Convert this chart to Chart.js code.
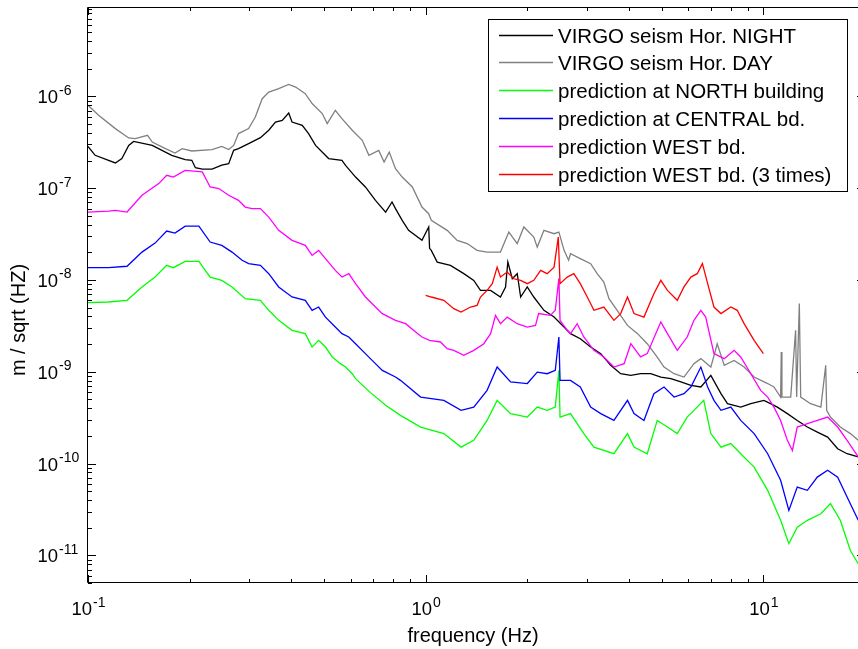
<!DOCTYPE html>
<html>
<head>
<meta charset="utf-8">
<script src="https://cdn.jsdelivr.net/npm/chart.js@4/dist/chart.umd.min.js"></script>
<style>
  html, body { margin: 0; padding: 0; background: #fff; overflow: hidden; }
  #plot { display: block; }
</style>
</head>
<body>
<canvas id="plot" width="866" height="649"></canvas>
<script>
// [frequency (Hz), m/sqrt(Hz)]
var nightPts = [[0.1,2.85e-7],[0.105,2.28e-7],[0.1205,1.88e-7],[0.126,2.1e-7],[0.132,2.92e-7],[0.1365,3.23e-7],[0.155,2.92e-7],[0.177,2.28e-7],[0.194,2.04e-7],[0.203,2.01e-7],[0.208,1.67e-7],[0.218,1.615e-7],[0.233,1.615e-7],[0.249,1.785e-7],[0.261,1.85e-7],[0.27,2.58e-7],[0.279,2.69e-7],[0.299,3.05e-7],[0.324,3.55e-7],[0.343,4.27e-7],[0.359,5.25e-7],[0.376,5.48e-7],[0.393,6.58e-7],[0.402,5.25e-7],[0.431,4.83e-7],[0.45,3.93e-7],[0.472,2.92e-7],[0.516,2.1e-7],[0.565,2.01e-7],[0.579,1.77e-7],[0.62,1.32e-7],[0.663,1.03e-7],[0.71,7.37e-8],[0.761,5.49e-8],[0.795,7.06e-8],[0.814,5.98e-8],[0.852,4.46e-8],[0.89,3.47e-8],[0.975,2.7e-8],[1.021,3.77e-8],[1.027,2.21e-8],[1.039,2.1e-8],[1.082,1.566e-8],[1.184,1.443e-8],[1.297,1.171e-8],[1.388,9.9e-9],[1.453,7.7e-9],[1.557,7.7e-9],[1.665,6.52e-9],[1.724,8.39e-9],[1.751,1.566e-8],[1.805,1.03e-8],[1.867,1.17e-8],[1.911,6.52e-9],[1.999,8.39e-9],[2.09,6.52e-9],[2.24,4.67e-9],[2.4,3.94e-9],[2.625,2.83e-9],[2.685,2.6e-9],[2.87,2.29e-9],[3.08,1.86e-9],[3.3,1.575e-9],[3.53,1.174e-9],[3.78,9.52e-10],[4.05,9.13e-10],[4.33,9.52e-10],[4.64,9.52e-10],[4.97,8.76e-10],[5.32,8.42e-10],[5.7,7.74e-10],[6.1,7.11e-10],[6.53,6.82e-10],[6.99,9.13e-10],[7.49,5.77e-10],[7.83,4.49e-10],[8.57,4.12e-10],[9.18,4.49e-10],[10.04,4.88e-10],[10.5,4.49e-10],[11.0,4.12e-10],[11.78,3.5e-10],[12.6,2.95e-10],[13.5,2.5e-10],[14.45,2.2e-10],[15.5,1.94e-10],[16.6,1.45e-10],[17.7,1.28e-10],[19.1,1.18e-10]];

var dayPts = [[0.1,7.98e-7],[0.1075,6.22e-7],[0.1205,4.45e-7],[0.132,3.52e-7],[0.138,3.46e-7],[0.15,3.76e-7],[0.155,3.18e-7],[0.166,2.8e-7],[0.181,2.41e-7],[0.19,2.69e-7],[0.203,2.54e-7],[0.233,2.63e-7],[0.249,2.85e-7],[0.261,2.63e-7],[0.27,2.92e-7],[0.279,3.93e-7],[0.299,4.45e-7],[0.313,5.95e-7],[0.328,9.43e-7],[0.343,1.114e-6],[0.367,1.213e-6],[0.393,1.35e-6],[0.412,1.263e-6],[0.44,1.07e-6],[0.461,8.34e-7],[0.494,6.49e-7],[0.511,5.04e-7],[0.54,7.04e-7],[0.565,5.71e-7],[0.606,4.27e-7],[0.649,3.32e-7],[0.679,2.28e-7],[0.726,2.58e-7],[0.753,1.925e-7],[0.78,2.47e-7],[0.814,1.63e-7],[0.852,1.32e-7],[0.913,1.03e-7],[0.975,6.22e-8],[1.021,5.27e-8],[1.039,4.46e-8],[1.158,3.47e-8],[1.24,2.7e-8],[1.327,2.49e-8],[1.42,2.1e-8],[1.52,2.01e-8],[1.665,2.01e-8],[1.763,3.32e-8],[1.867,2.49e-8],[1.953,3.77e-8],[2.09,2.93e-8],[2.14,2.28e-8],[2.24,3.47e-8],[2.4,3.19e-8],[2.48,3.32e-8],[2.57,2.1e-8],[2.65,1.64e-8],[2.685,1.93e-8],[2.87,1.71e-8],[3.08,1.505e-8],[3.22,1.17e-8],[3.37,9.48e-9],[3.49,6.25e-9],[3.69,4.67e-9],[3.96,3.2e-9],[4.24,2.6e-9],[4.53,2.02e-9],[4.85,1.446e-9],[5.08,1.125e-9],[5.44,9.52e-10],[5.82,8.76e-10],[6.23,1.225e-9],[6.53,1.39e-9],[6.99,1.125e-9],[7.3,2.02e-9],[7.66,1.174e-9],[8.19,1.33e-9],[8.77,1.125e-9],[9.39,8.76e-10],[10.3,7.44e-10],[10.75,6.82e-10],[11.25,5.3e-10],[11.3,1.64e-9],[11.35,5.3e-10],[12.05,5.3e-10],[12.46,2.83e-9],[12.55,5.3e-10],[12.78,5.53e-9],[12.9,5.3e-10],[13.8,4.49e-10],[14.8,4.12e-10],[15.3,1.174e-9],[15.4,3.8e-10],[15.8,3.21e-10],[16.9,2.5e-10],[18.1,2.12e-10],[19.1,1.79e-10]];

var northPts = [[0.1,5.66e-9],[0.115,5.75e-9],[0.1305,6.0e-9],[0.1445,8.39e-9],[0.158,1.075e-8],[0.171,1.443e-8],[0.179,1.36e-8],[0.194,1.595e-8],[0.213,1.595e-8],[0.23,1.075e-8],[0.249,9.9e-9],[0.267,8.39e-9],[0.292,6.25e-9],[0.324,6.0e-9],[0.343,4.67e-9],[0.367,3.63e-9],[0.402,2.83e-9],[0.44,2.6e-9],[0.461,1.86e-9],[0.482,2.2e-9],[0.505,1.86e-9],[0.529,1.446e-9],[0.559,1.225e-9],[0.579,1.125e-9],[0.606,9.52e-10],[0.62,8.42e-10],[0.685,5.96e-10],[0.761,4.31e-10],[0.842,3.35e-10],[0.966,2.5e-10],[1.132,2.12e-10],[1.273,1.51e-10],[1.388,1.79e-10],[1.52,2.95e-10],[1.628,4.88e-10],[1.784,3.5e-10],[2.0,3.21e-10],[2.14,4.12e-10],[2.29,3.8e-10],[2.42,4.12e-10],[2.48,1.035e-9],[2.5,3.21e-10],[2.685,3.5e-10],[2.94,2.12e-10],[3.15,1.51e-10],[3.61,1.28e-10],[3.96,2.12e-10],[4.14,1.51e-10],[4.53,1.28e-10],[4.85,2.95e-10],[5.2,2.5e-10],[5.56,2.12e-10],[5.95,3.21e-10],[6.37,4.12e-10],[6.66,4.88e-10],[6.99,2.12e-10],[7.49,1.51e-10],[8.01,1.65e-10],[8.57,1.28e-10],[9.39,9.15e-11],[10.3,5.11e-11],[11.25,2.41e-11],[11.9,1.34e-11],[12.6,2.03e-11],[13.5,2.41e-11],[14.8,2.84e-11],[15.8,3.66e-11],[16.9,2.41e-11],[18.1,1.13e-11],[19.1,8.1e-12]];

var centralPts = [[0.1,1.36e-8],[0.115,1.36e-8],[0.1305,1.41e-8],[0.1445,2.01e-8],[0.158,2.52e-8],[0.171,3.41e-8],[0.181,3.24e-8],[0.194,3.86e-8],[0.213,3.86e-8],[0.23,2.59e-8],[0.249,2.38e-8],[0.267,2.01e-8],[0.286,1.64e-8],[0.299,1.505e-8],[0.324,1.443e-8],[0.343,1.17e-8],[0.367,8.39e-9],[0.402,6.52e-9],[0.44,6.0e-9],[0.461,4.67e-9],[0.482,5.07e-9],[0.505,3.94e-9],[0.54,3.07e-9],[0.565,2.6e-9],[0.592,2.39e-9],[0.62,2.02e-9],[0.663,1.575e-9],[0.71,1.225e-9],[0.744,1.035e-9],[0.814,8.76e-10],[0.842,8.06e-10],[0.966,5.3e-10],[1.132,4.88e-10],[1.273,3.8e-10],[1.388,4.12e-10],[1.52,6.27e-10],[1.628,1.125e-9],[1.784,7.74e-10],[2.0,7.44e-10],[2.14,9.9e-10],[2.29,9.52e-10],[2.42,1.035e-9],[2.48,2.39e-9],[2.5,8.06e-10],[2.685,8.06e-10],[2.87,6.82e-10],[3.08,4.12e-10],[3.3,3.5e-10],[3.61,2.95e-10],[3.96,4.88e-10],[4.14,3.5e-10],[4.43,2.95e-10],[4.74,5.77e-10],[5.08,6.82e-10],[5.44,5.3e-10],[5.82,5.77e-10],[6.1,6.82e-10],[6.53,1.125e-9],[6.84,6.82e-10],[7.14,4.88e-10],[7.49,3.8e-10],[8.01,4.12e-10],[8.57,2.95e-10],[9.39,2.12e-10],[10.3,1.28e-10],[11.25,6.57e-11],[11.9,3.09e-11],[12.6,5.55e-11],[13.5,5.11e-11],[14.45,7.12e-11],[15.5,8.45e-11],[16.6,7.12e-11],[17.7,4.32e-11],[19.1,2.41e-11]];

var westPts = [[0.1,5.49e-8],[0.115,5.63e-8],[0.1205,5.73e-8],[0.1305,5.49e-8],[0.1445,8.37e-8],[0.162,1.12e-7],[0.171,1.38e-7],[0.179,1.32e-7],[0.194,1.56e-7],[0.218,1.5e-7],[0.23,1.03e-7],[0.244,9.89e-8],[0.261,8.37e-8],[0.279,7.37e-8],[0.292,6.22e-8],[0.306,5.98e-8],[0.324,5.98e-8],[0.343,4.84e-8],[0.367,3.47e-8],[0.402,2.7e-8],[0.44,2.38e-8],[0.461,1.85e-8],[0.482,2.1e-8],[0.505,1.71e-8],[0.54,1.27e-8],[0.565,1.075e-8],[0.592,1.17e-8],[0.62,9.11e-9],[0.663,6.52e-9],[0.71,5.07e-9],[0.744,4.3e-9],[0.78,3.94e-9],[0.814,3.63e-9],[0.872,3.34e-9],[0.934,2.71e-9],[0.975,2.39e-9],[1.027,2.2e-9],[1.106,2.11e-9],[1.158,1.785e-9],[1.211,1.71e-9],[1.297,1.51e-9],[1.388,1.71e-9],[1.487,2.02e-9],[1.557,2.6e-9],[1.61,4.11e-9],[1.665,3.34e-9],[1.744,3.94e-9],[1.867,3.34e-9],[1.999,3.07e-9],[2.115,3.2e-9],[2.16,4.3e-9],[2.34,4.11e-9],[2.42,4.67e-9],[2.48,1.04e-8],[2.5,3.63e-9],[2.625,2.83e-9],[2.685,2.6e-9],[2.81,3.34e-9],[2.94,2.39e-9],[3.15,1.71e-9],[3.37,1.45e-9],[3.61,1.125e-9],[3.87,1.225e-9],[4.05,2.02e-9],[4.33,1.45e-9],[4.53,1.575e-9],[4.85,2.83e-9],[4.97,3.48e-9],[5.2,2.6e-9],[5.56,1.71e-9],[5.95,2.39e-9],[6.23,3.63e-9],[6.53,4.67e-9],[6.75,3.94e-9],[7.14,1.575e-9],[7.66,1.39e-9],[8.19,1.71e-9],[8.57,1.45e-9],[9.18,9.52e-10],[9.82,6.27e-10],[10.3,5.3e-10],[10.75,4.12e-10],[11.25,2.95e-10],[11.78,1.79e-10],[12.19,1.39e-10],[12.6,2.5e-10],[13.5,2.72e-10],[14.45,2.95e-10],[15.5,3.21e-10],[16.6,2.5e-10],[17.7,1.79e-10],[19.1,1.18e-10]];

var west3Pts = [[1.0,6.8e-9],[1.039,6.52e-9],[1.132,6.0e-9],[1.211,4.87e-9],[1.273,4.47e-9],[1.358,5.07e-9],[1.42,5.29e-9],[1.453,6.52e-9],[1.52,7.7e-9],[1.575,9.11e-9],[1.628,1.38e-8],[1.665,1.075e-8],[1.744,1.22e-8],[1.824,1.03e-8],[1.911,9.9e-9],[2.0,9.11e-9],[2.09,9.9e-9],[2.19,1.27e-8],[2.29,1.17e-8],[2.4,1.38e-8],[2.47,2.93e-8],[2.5,9.11e-9],[2.625,1.075e-8],[2.746,1.17e-8],[2.87,9.11e-9],[3.01,6.52e-9],[3.15,4.67e-9],[3.37,5.07e-9],[3.61,3.63e-9],[3.78,4.3e-9],[3.96,6.52e-9],[4.14,4.3e-9],[4.43,3.94e-9],[4.74,7.09e-9],[4.97,9.9e-9],[5.2,7.7e-9],[5.56,6.0e-9],[5.82,8.39e-9],[6.1,1.075e-8],[6.37,1.17e-8],[6.6,1.505e-8],[6.84,9.11e-9],[7.14,5.07e-9],[7.49,4.3e-9],[8.01,5.07e-9],[8.37,4.67e-9],[8.77,3.34e-9],[9.39,2.2e-9],[10.0,1.575e-9]];

var seriesNames = ['VIRGO seism Hor. NIGHT', 'VIRGO seism Hor. DAY', 'prediction at NORTH building',
                   'prediction at CENTRAL bd.', 'prediction WEST bd.', 'prediction WEST bd. (3 times)'];
var seriesColors = ['#000000', '#808080', '#00ff00', '#0000ff', '#ff00ff', '#ff0000'];
var seriesPts = [nightPts, dayPts, northPts, centralPts, westPts, west3Pts];

var xDecades = [0.1, 1, 10];
var xExponents = ['-1', '0', '1'];
var yDecades = [1e-11, 1e-10, 1e-9, 1e-8, 1e-7, 1e-6];
var yExponents = ['-11', '-10', '-9', '-8', '-7', '-6'];
var xRange = [0.1, 20];
var yRange = [5e-12, 9.4e-6];

var FONT = "'Liberation Sans', Arial, sans-serif";

function drawPow(ctx, exp, x, baseY, align) {
    ctx.font = '18.5px ' + FONT;
    var w1 = ctx.measureText('10').width;
    ctx.font = '14px ' + FONT;
    var w2 = ctx.measureText(exp).width;
    var start = align === 'center' ? x - (w1 + w2) / 2 : x - w1;
    ctx.textAlign = 'left';
    ctx.textBaseline = 'alphabetic';
    ctx.font = '18.5px ' + FONT;
    ctx.fillText('10', start, baseY);
    ctx.font = '14px ' + FONT;
    ctx.fillText(exp, start + w1 + 1, baseY - 8.5);
}

// matlab-like box, inward ticks, labels and legend
var matlabAxes = {
    id: 'matlabAxes',
    afterDatasetsDraw: function(chart) {
        var ctx = chart.ctx, a = chart.chartArea;
        var xs = chart.scales.x, ys = chart.scales.y;
        ctx.save();
        ctx.strokeStyle = '#000';
        ctx.fillStyle = '#000';
        ctx.lineWidth = 1;
        ctx.beginPath();
        ctx.rect(Math.round(a.left) - 0.5, Math.round(a.top) + 0.5,
                 Math.round(a.right - a.left), Math.round(a.bottom - a.top) - 1);
        ctx.stroke();

        ctx.beginPath();
        xDecades.forEach(function(d) {
            for (var m = 1; m <= 9; m++) {
                var v = m * d;
                if (v < xRange[0] || v > xRange[1]) continue;
                var px = Math.round(xs.getPixelForValue(v)) + 0.5;
                var len = m === 1 ? 8 : 4;
                ctx.moveTo(px, a.bottom); ctx.lineTo(px, a.bottom - len);
                ctx.moveTo(px, a.top); ctx.lineTo(px, a.top + len);
            }
        });
        [1e-12].concat(yDecades).forEach(function(d) {
            for (var m = 1; m <= 9; m++) {
                var v = m * d;
                if (v < yRange[0] || v > yRange[1]) continue;
                var py = Math.round(ys.getPixelForValue(v)) + 0.5;
                var len = m === 1 ? 8 : 4;
                ctx.moveTo(a.left, py); ctx.lineTo(a.left + len, py);
                ctx.moveTo(a.right, py); ctx.lineTo(a.right - len, py);
            }
        });
        ctx.stroke();

        xDecades.forEach(function(d, i) {
            drawPow(ctx, xExponents[i], xs.getPixelForValue(d), a.bottom + 32, 'center');
        });
        yDecades.forEach(function(d, i) {
            drawPow(ctx, yExponents[i], 58, ys.getPixelForValue(d) + 7, 'right');
        });

        ctx.font = '20px ' + FONT;
        ctx.textAlign = 'center';
        ctx.textBaseline = 'alphabetic';
        ctx.fillText('frequency (Hz)', 473, 642);
        ctx.save();
        ctx.translate(25, 320);
        ctx.rotate(-Math.PI / 2);
        ctx.fillText('m / sqrt (HZ)', 0, 0);
        ctx.restore();

        // legend box
        var bx = 488.5, by = 19.5, bw = 359, bh = 172;
        ctx.fillStyle = '#fff';
        ctx.fillRect(bx, by, bw, bh);
        ctx.strokeStyle = '#000';
        ctx.strokeRect(bx, by, bw, bh);
        ctx.font = '20.5px ' + FONT;
        ctx.textAlign = 'left';
        chart.data.datasets.forEach(function(ds, i) {
            var cy = 34.5 + i * 27.9;
            ctx.strokeStyle = ds.borderColor;
            ctx.lineWidth = 1.3;
            ctx.beginPath();
            ctx.moveTo(499, Math.round(cy) + 0.5);
            ctx.lineTo(553, Math.round(cy) + 0.5);
            ctx.stroke();
            ctx.fillStyle = '#000';
            ctx.fillText(ds.label, 558, cy + 8);
        });
        ctx.restore();
    }
};

var datasets = seriesPts.map(function(pts, i) {
    return {
        label: seriesNames[i],
        data: pts.map(function(p) { return {x: p[0], y: p[1]}; }),
        borderColor: seriesColors[i],
        backgroundColor: seriesColors[i],
        borderWidth: 1.3,
        pointRadius: 0,
        showLine: true,
        tension: 0,
        fill: false,
        order: seriesPts.length - i
    };
});

new Chart(document.getElementById('plot').getContext('2d'), {
    type: 'scatter',
    data: { datasets: datasets },
    options: {
        responsive: false,
        animation: false,
        layout: { padding: { top: 7, right: 1, left: 0, bottom: 0 } },
        plugins: { legend: { display: false }, tooltip: { enabled: false } },
        scales: {
            x: {
                type: 'logarithmic', min: xRange[0], max: xRange[1],
                grid: { display: false }, border: { display: false },
                ticks: { display: false },
                afterFit: function(s) { s.height = 66; }
            },
            y: {
                type: 'logarithmic', min: yRange[0], max: yRange[1],
                grid: { display: false }, border: { display: false },
                ticks: { display: false },
                afterFit: function(s) { s.width = 88; }
            }
        }
    },
    plugins: [matlabAxes]
});
</script>
</body>
</html>
